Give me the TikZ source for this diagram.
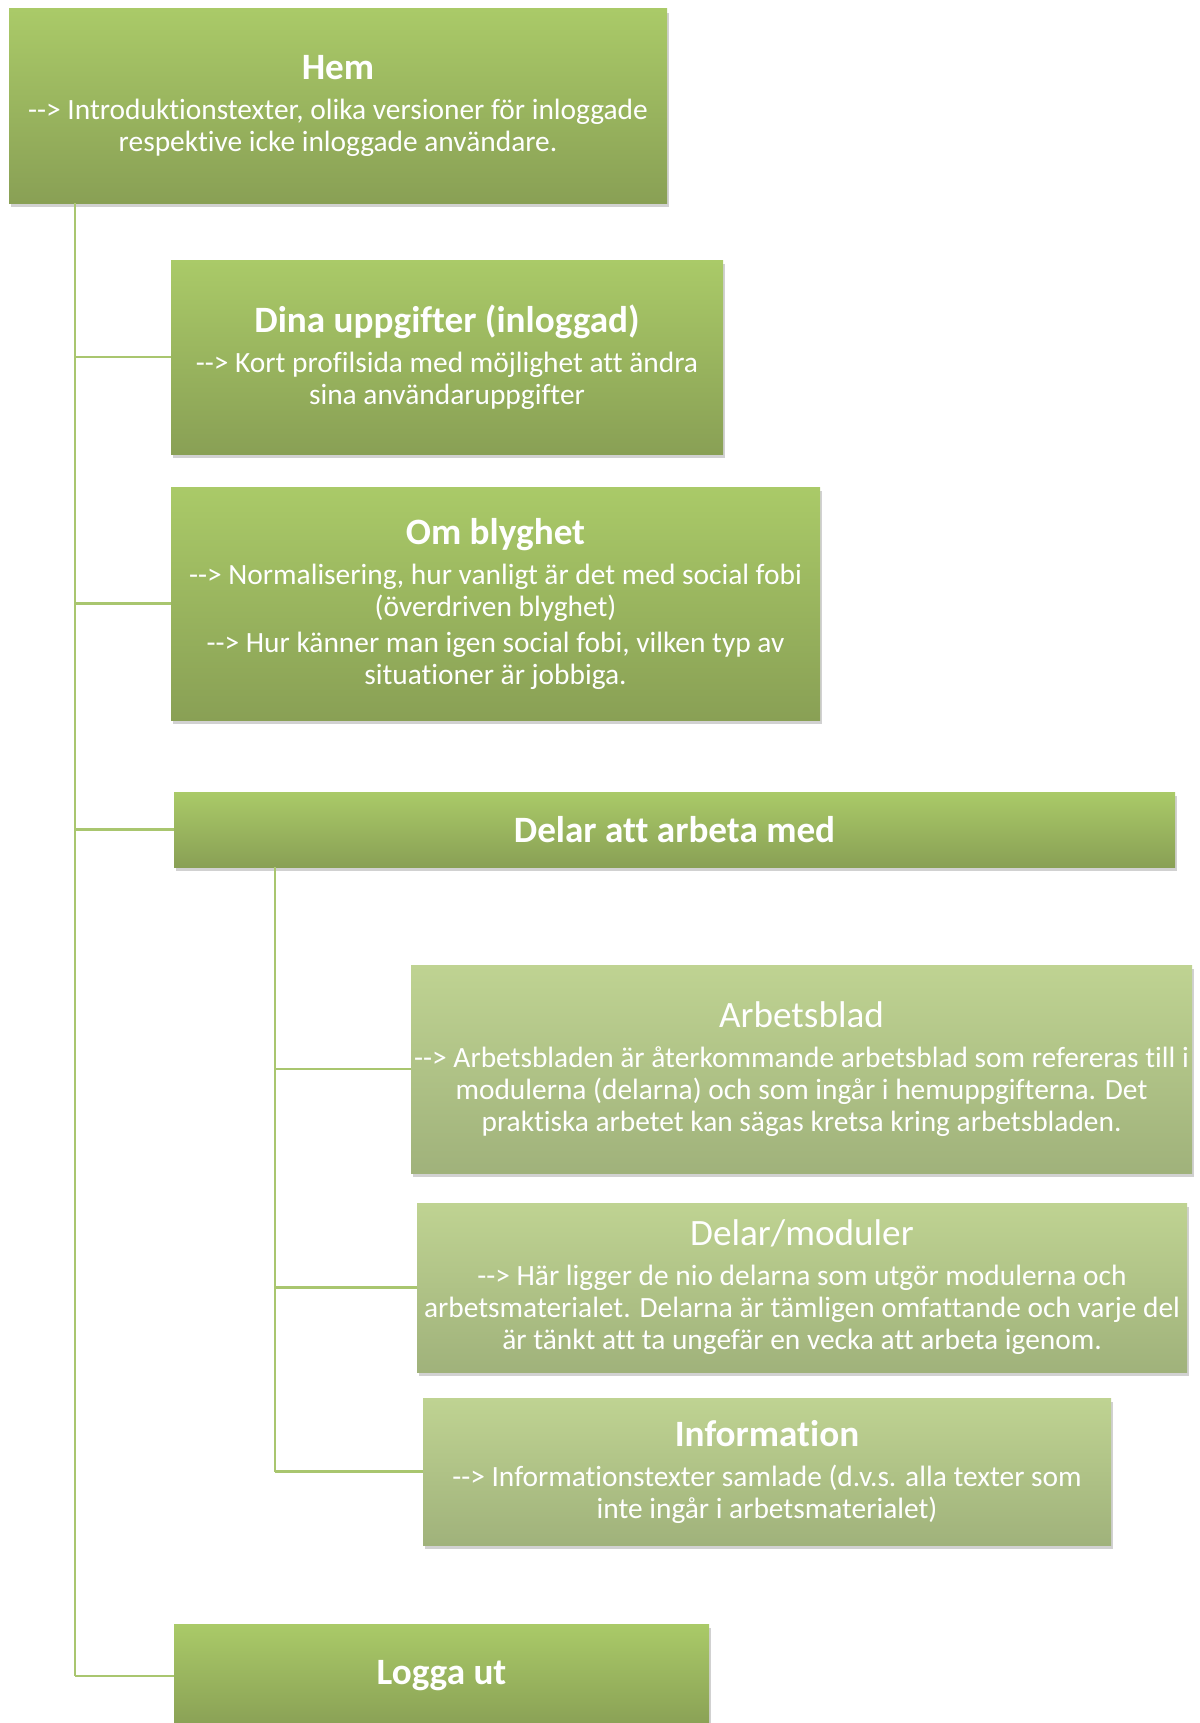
\documentclass[tikz,border=0pt]{standalone}
\usepackage{fontspec}
\setmainfont{Carlito}[Ligatures={NoCommon}]
\usetikzlibrary{positioning,shadows}
\definecolor{mainTop}{HTML}{AACA68}
\definecolor{mainBot}{HTML}{89A055}
\definecolor{subTop}{HTML}{BFD392}
\definecolor{subBot}{HTML}{A0B27B}
\definecolor{linkGreen}{HTML}{A9C66F}
\tikzset{
  box/.style={inner sep=0pt,align=center,text=white,
    font=\fontsize{14.7}{16}\selectfont,
    drop shadow={shadow xshift=1pt,shadow yshift=-2pt,opacity=0.3,fill=black!60}},
  mainbox/.style={box,top color=mainTop,bottom color=mainBot},
  subbox/.style={box,top color=subTop,bottom color=subBot},
  link/.style={draw=linkGreen,line width=1.3pt},
}
\newcommand{\boxtitle}[1]{{\fontsize{18.6}{21}\selectfont\bfseries #1}}
\newcommand{\boxhead}[1]{{\fontsize{18.6}{21}\selectfont #1}}
\newcommand{\arr}{-{}->}
\begin{document}
\begin{tikzpicture}[x=0.5pt,y=-0.5pt]
\useasboundingbox (0,0) rectangle (1199,1723);
\coordinate (trunk) at (75,0);
\coordinate (branch) at (275,0);
% first level
\node[mainbox,minimum width=329pt,minimum height=97pt] (hem) at (338,106)
  {\boxtitle{Hem}\\[4pt]\arr{} Introduktionstexter, olika versioner för inloggade\\respektive icke inloggade användare.};
\node[mainbox,minimum width=276pt,minimum height=97pt] (dina) at (447,357)
  {\boxtitle{Dina uppgifter (inloggad)}\\[4pt]\arr{} Kort profilsida med möjlighet att ändra\\sina användaruppgifter};
\node[mainbox,minimum width=324.5pt,minimum height=116.5pt] (blyghet) at (495.5,603.5)
  {\boxtitle{Om blyghet}\\[4pt]\arr{} Normalisering, hur vanligt är det med social fobi\\(överdriven blyghet)\\[2pt]\arr{} Hur känner man igen social fobi, vilken typ av\\situationer är jobbiga.};
\node[mainbox,minimum width=500.5pt,minimum height=37.5pt] (delar) at (674.5,829.5)
  {\boxtitle{Delar att arbeta med}};
\node[mainbox,minimum width=267.5pt,minimum height=52pt] (logga) at (441.5,1676)
  {\boxtitle{Logga ut}};
% second level
\node[subbox,minimum width=390.5pt,minimum height=104pt] (arbetsblad) at (801.5,1069)
  {\boxhead{Arbetsblad}\\[4pt]\arr{} Arbetsbladen är återkommande arbetsblad som refereras till i\\modulerna (delarna) och som ingår i hemuppgifterna. Det\\praktiska arbetet kan sägas kretsa kring arbetsbladen.};
\node[subbox,minimum width=385pt,minimum height=84.5pt] (moduler) at (802,1287.5)
  {\boxhead{Delar/moduler}\\[4pt]\arr{} Här ligger de nio delarna som utgör modulerna och\\arbetsmaterialet. Delarna är tämligen omfattande och varje del\\är tänkt att ta ungefär en vecka att arbeta igenom.};
\node[subbox,minimum width=344pt,minimum height=73.5pt] (info) at (767,1471.5)
  {\boxtitle{Information}\\[4pt]\arr{} Informationstexter samlade (d.v.s. alla texter som\\inte ingår i arbetsmaterialet)};
% connectors
\draw[link] (hem.south -| trunk) -- (logga.west -| trunk);
\foreach \n in {dina,blyghet,delar,logga}
  \draw[link] (\n.west -| trunk) -- (\n.west);
\draw[link] (delar.south -| branch) -- (info.west -| branch);
\foreach \n in {arbetsblad,moduler,info}
  \draw[link] (\n.west -| branch) -- (\n.west);
\end{tikzpicture}
\end{document}
